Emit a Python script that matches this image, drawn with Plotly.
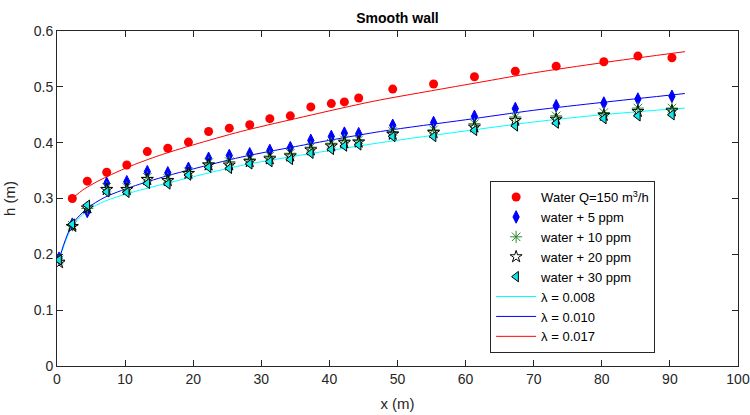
import plotly.graph_objects as go

# ---- measured data ----
x_meas = [0.3, 2.25, 4.45, 7.3, 10.25, 13.26, 16.27, 19.3, 22.26, 25.3, 28.3, 31.25, 34.26,
          37.27, 40.28, 42.2, 44.3, 49.3, 55.3, 61.3, 67.3, 73.3, 80.3, 85.3, 90.3]

x_water = x_meas[1:]
h_water = [0.300, 0.331, 0.347, 0.360, 0.384, 0.390, 0.401, 0.420, 0.426, 0.432, 0.443, 0.448,
           0.464, 0.470, 0.473, 0.480, 0.496, 0.505, 0.518, 0.528, 0.537, 0.545, 0.555, 0.552]

h_5ppm = [0.193, 0.254, 0.277, 0.327, 0.330, 0.348, 0.346, 0.354, 0.372, 0.377, 0.380, 0.386, 0.391,
          0.404, 0.411, 0.417, 0.416, 0.431, 0.436, 0.447, 0.461, 0.466, 0.471, 0.478, 0.483]

h_10ppm = [0.190, 0.252, 0.282, 0.320, 0.320, 0.338, 0.336, 0.348, 0.364, 0.366, 0.371, 0.376, 0.381,
           0.392, 0.399, 0.405, 0.405, 0.420, 0.423, 0.434, 0.446, 0.448, 0.454, 0.462, 0.462]

h_20ppm = [0.185, 0.250, 0.283, 0.316, 0.316, 0.334, 0.332, 0.345, 0.360, 0.360, 0.366, 0.371, 0.376,
           0.387, 0.394, 0.400, 0.401, 0.415, 0.418, 0.428, 0.440, 0.442, 0.449, 0.456, 0.457]

h_30ppm = [0.190, 0.254, 0.288, 0.312, 0.311, 0.327, 0.326, 0.342, 0.356, 0.354, 0.362, 0.366, 0.370,
           0.381, 0.388, 0.394, 0.396, 0.411, 0.411, 0.422, 0.430, 0.435, 0.443, 0.448, 0.450]

# ---- model curves ----
x_l008 = [0.3, 1, 2.25, 4.4, 7, 11, 16, 20, 27, 35, 47.5, 60, 70, 80, 92.2]
h_l008 = [0.188, 0.215, 0.250, 0.278, 0.295, 0.311, 0.327, 0.339, 0.359, 0.376, 0.400, 0.421, 0.437, 0.450, 0.462]

x_l010 = [0.3, 1, 2.25, 4.4, 7, 11, 16, 20, 27, 35, 47.5, 60, 70, 80, 92.2]
h_l010 = [0.190, 0.218, 0.254, 0.282, 0.302, 0.321, 0.340, 0.353, 0.374, 0.393, 0.420, 0.441, 0.458, 0.472, 0.488]

x_l017 = [2.2, 4, 6, 8, 11, 15, 20, 27, 35, 46.4, 55, 62, 70, 80, 92.2]
h_l017 = [0.300, 0.317, 0.331, 0.343, 0.359, 0.377, 0.396, 0.420, 0.443, 0.474, 0.493, 0.508, 0.525, 0.543, 0.563]

x_ticks = [0, 10, 20, 30, 40, 50, 60, 70, 80, 90, 100]
y_ticks = [0, 0.1, 0.2, 0.3, 0.4, 0.5, 0.6]
y_ticklabels = ["0", "0.1", "0.2", "0.3", "0.4", "0.5", "0.6"]

FONT = "Liberation Sans, Arial, Helvetica, sans-serif"
TXT = "#262626"

fig = go.Figure()

# lines (drawn first, listed last in legend)
for xs, hs, col, name, rank in [
    (x_l008, h_l008, "#00ffff", "λ = 0.008", 6),
    (x_l010, h_l010, "#0000ff", "λ = 0.010", 7),
    (x_l017, h_l017, "#ff0000", "λ = 0.017", 8),
]:
    fig.add_trace(go.Scatter(x=xs, y=hs, mode="lines", name=name, legendrank=rank,
                             line=dict(color=col, width=1, shape="spline", smoothing=0.8)))

fig.add_trace(go.Scatter(x=x_water, y=h_water, mode="markers", name="Water Q=150 m<sup>3</sup>/h",
                         legendrank=1,
                         marker=dict(symbol="circle", size=9, color="#ff0000",
                                     line=dict(color="#ff0000", width=0))))
fig.add_trace(go.Scatter(x=x_meas, y=h_5ppm, mode="markers", name="water + 5 ppm", legendrank=2,
                         marker=dict(symbol="diamond-tall", size=9, color="#0000ff",
                                     line=dict(color="#0000ff", width=1))))
fig.add_trace(go.Scatter(x=x_meas, y=h_10ppm, mode="markers", name="water + 10 ppm", legendrank=3,
                         marker=dict(symbol="asterisk-open", size=10, color="#2a8a2a",
                                     line=dict(color="#2a8a2a", width=1))))
fig.add_trace(go.Scatter(x=x_meas, y=h_20ppm, mode="markers", name="water + 20 ppm", legendrank=4,
                         marker=dict(symbol="star-open", size=9, color="#000000",
                                     line=dict(color="#000000", width=1))))
fig.add_trace(go.Scatter(x=x_meas, y=h_30ppm, mode="markers", name="water + 30 ppm", legendrank=5,
                         marker=dict(symbol="triangle-left", size=9, color="#10e8e8",
                                     line=dict(color="#000000", width=1))))

fig.update_layout(
    width=750, height=415,
    margin=dict(l=57, r=12, t=31, b=49, autoexpand=False),
    paper_bgcolor="white", plot_bgcolor="white",
    font=dict(family=FONT, size=14, color=TXT),
    title=dict(text="<b>Smooth wall</b>", x=0.53, xanchor="center", y=0.957, yanchor="middle",
               font=dict(family=FONT, size=14, color="#000000")),
    showlegend=True,
    legend=dict(x=0.636, y=0.552, xanchor="left", yanchor="top",
                bgcolor="white", bordercolor="#262626", borderwidth=1,
                font=dict(family=FONT, size=13, color="#000000"),
                tracegroupgap=0, itemwidth=40),
)

fig.update_xaxes(range=[0, 100], tickvals=x_ticks, ticks="inside", ticklen=6, tickcolor=TXT,
                 showline=True, linecolor=TXT, linewidth=1, mirror="ticks", showgrid=False,
                 zeroline=False, automargin=False, tickfont=dict(size=14),
                 title=dict(text="x (m)", standoff=12, font=dict(size=15)))
fig.update_yaxes(range=[0, 0.6], tickvals=y_ticks, ticktext=y_ticklabels, ticks="inside", ticklen=6,
                 tickcolor=TXT, showline=True, linecolor=TXT, linewidth=1, mirror="ticks",
                 showgrid=False, zeroline=False, automargin=False, tickfont=dict(size=14),
                 title=dict(text="h (m)", standoff=14, font=dict(size=15)))

fig.write_html("out.html")
